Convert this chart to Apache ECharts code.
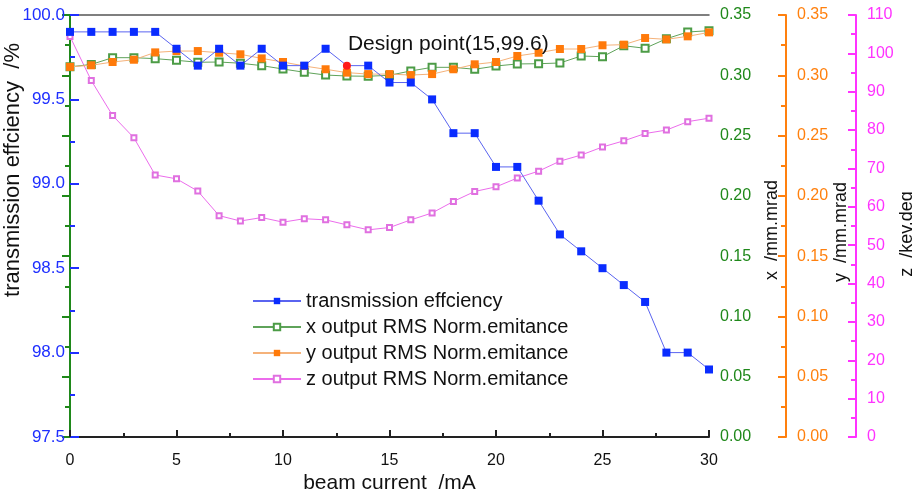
<!DOCTYPE html>
<html>
<head>
<meta charset="utf-8">
<script src="https://cdn.jsdelivr.net/npm/echarts@6/dist/echarts.min.js"></script>
<style>html,body{margin:0;padding:0;background:#fff}#c{width:912px;height:502px}</style>
</head>
<body>
<div id="c"></div>
<script>
const current = [0,1,2,3,4,5,6,7,8,9,10,11,12,13,14,15,16,17,18,19,20,21,22,23,24,25,26,27,28,29,30];
const transmission = [99.9,99.9,99.9,99.9,99.9,99.8,99.7,99.8,99.7,99.8,99.7,99.7,99.8,99.7,99.7,99.6,99.6,99.5,99.3,99.3,99.1,99.1,98.9,98.7,98.6,98.5,98.4,98.3,98.0,98.0,97.9];
const xEmit = [0.307,0.309,0.3146,0.3146,0.3138,0.3124,0.3108,0.311,0.310,0.308,0.3052,0.3025,0.3002,0.2994,0.2992,0.300,0.3036,0.3066,0.3066,0.305,0.3077,0.3094,0.3096,0.3102,0.316,0.3154,0.3245,0.3224,0.3303,0.3359,0.337];
const yEmit = [0.307,0.3083,0.311,0.3129,0.319,0.3201,0.3201,0.3187,0.3174,0.314,0.311,0.3077,0.305,0.3022,0.301,0.301,0.3002,0.301,0.305,0.3091,0.311,0.316,0.3187,0.3218,0.3218,0.3249,0.3254,0.3309,0.3298,0.3323,0.3356];
const zEmit = [104.4,92.9,83.8,78.0,68.3,67.3,64.1,57.7,56.3,57.2,56.0,56.9,56.6,55.3,54.0,54.6,56.6,58.4,61.4,64.0,65.2,67.5,69.3,71.9,73.5,75.6,77.2,79.1,80.0,82.2,83.1];
const designIndex = 13;
const designLabel = 'Design point(15,99.6)';
const seriesNames = ['transmission effciency','x output RMS Norm.emitance','y output RMS Norm.emitance','z output RMS Norm.emitance'];

const FONT = 'Liberation Sans, Arial, sans-serif';
const BLUE = '#1f2fff', GREEN = '#1f881a', ORANGE = '#ff800e', MAG = '#ff33ff';

function pairs(arr){ return current.map((x,i)=>[x,arr[i]]); }
const transData = current.map((x,i)=>{
  if (i===designIndex) return {value:[x,transmission[i]], symbol:'circle', symbolSize:8, itemStyle:{color:'#ff1a1a'},
    label:{show:true, formatter:designLabel, position:'top', align:'left', offset:[1,-2], color:'#111', fontSize:21, fontFamily:FONT}};
  return [x,transmission[i]];
});

const chart = echarts.init(document.getElementById('c'), null, {renderer:'canvas'});
function rightAxis(name, color, min, max, interval, offset, gap, shift, fmt){
  return {type:'value', position:'right', offset:offset, min:min, max:max, interval:interval,
    name:name, nameLocation:'middle', nameGap:gap, nameRotate:90, nameMoveOverlap:false,
    nameTextStyle:{color:'#111', fontSize:18, fontFamily:FONT, padding:[0,shift,0,0]},
    axisLine:{show:true, lineStyle:{color:color, width:2}},
    axisTick:{show:true, inside:true, length:8, lineStyle:{color:color, width:2}},
    minorTick:{show:true, splitNumber:2, length:5, lineStyle:{color:color, width:2}},
    axisLabel:{color:color, fontSize:16, fontFamily:FONT, margin:11, formatter:fmt},
    splitLine:{show:false}};
}
chart.setOption({
  animation:false,
  backgroundColor:'#fff',
  grid:{left:70, right:203, top:15, bottom:65, containLabel:false, outerBoundsMode:'none'},
  legend:{orient:'vertical', left:247, top:286, itemWidth:48, itemHeight:8, itemGap:6,
    textStyle:{fontSize:20, fontFamily:FONT, color:'#111', lineHeight:20},
    data:seriesNames},
  xAxis:[{type:'value', min:0, max:30, interval:5, position:'bottom',
    name:'beam current  /mA', nameLocation:'middle', nameGap:36, nameMoveOverlap:false,
    nameTextStyle:{color:'#111', fontSize:21, fontFamily:FONT},
    axisLine:{lineStyle:{color:'#222', width:2}},
    axisTick:{inside:true, length:7, lineStyle:{color:'#222', width:2}},
    minorTick:{show:true, splitNumber:2, length:4, lineStyle:{color:'#222', width:2}},
    axisLabel:{color:'#111', fontSize:16, fontFamily:FONT, margin:16},
    splitLine:{show:false}},
   {type:'value', min:0, max:30, position:'top', axisLine:{show:true, onZero:false, lineStyle:{color:'#555', width:1.5}},
    axisTick:{show:false}, axisLabel:{show:false}, splitLine:{show:false}}],
  yAxis:[
   {type:'value', min:97.5, max:100, interval:0.5, position:'left',
    name:'transmission effciency  /%', nameLocation:'middle', nameGap:46, nameRotate:90, nameMoveOverlap:false,
    nameTextStyle:{color:'#111', fontSize:22, fontFamily:FONT, padding:[0,0,0,112]},
    axisLine:{show:true, lineStyle:{color:BLUE, width:2}},
    axisTick:{show:true, inside:true, length:9, lineStyle:{color:BLUE, width:2}},
    minorTick:{show:true, splitNumber:2, length:5, lineStyle:{color:BLUE, width:2}},
    axisLabel:{color:BLUE, fontSize:17, fontFamily:FONT, margin:5, formatter:v=>v.toFixed(1)},
    splitLine:{show:false}},
   rightAxis('x  /mm.mrad', GREEN, 0, 0.35, 0.05, 0, 54, 8, v=>v.toFixed(2)),
   rightAxis('y  /mm.mrad', ORANGE, 0, 0.35, 0.05, 77, 46, 12, v=>v.toFixed(2)),
   rightAxis('z  /kev.deg', MAG, 0, 110, 10, 147, 42, 16, v=>String(v))
  ],
  series:[
   {name:seriesNames[0], type:'line', yAxisIndex:0, data:transData, symbol:'rect', symbolSize:8,
    lineStyle:{color:'#5a64f0', width:1}, itemStyle:{color:'#0a2cff'}, z:5},
   {name:seriesNames[1], type:'line', yAxisIndex:1, data:pairs(xEmit), symbol:'emptyRect', symbolSize:7,
    lineStyle:{color:'#5fa35a', width:1}, itemStyle:{color:'#4c9c46'}, z:3},
   {name:seriesNames[2], type:'line', yAxisIndex:2, data:pairs(yEmit), symbol:'rect', symbolSize:8,
    lineStyle:{color:'#f5b27a', width:1}, itemStyle:{color:'#ff7a0a'}, z:4},
   {name:seriesNames[3], type:'line', yAxisIndex:3, data:pairs(zEmit), symbol:'emptyRect', symbolSize:5,
    lineStyle:{color:'#ec6cec', width:1}, itemStyle:{color:'#e070e0'}, z:2}
  ]
});
</script>
</body>
</html>
